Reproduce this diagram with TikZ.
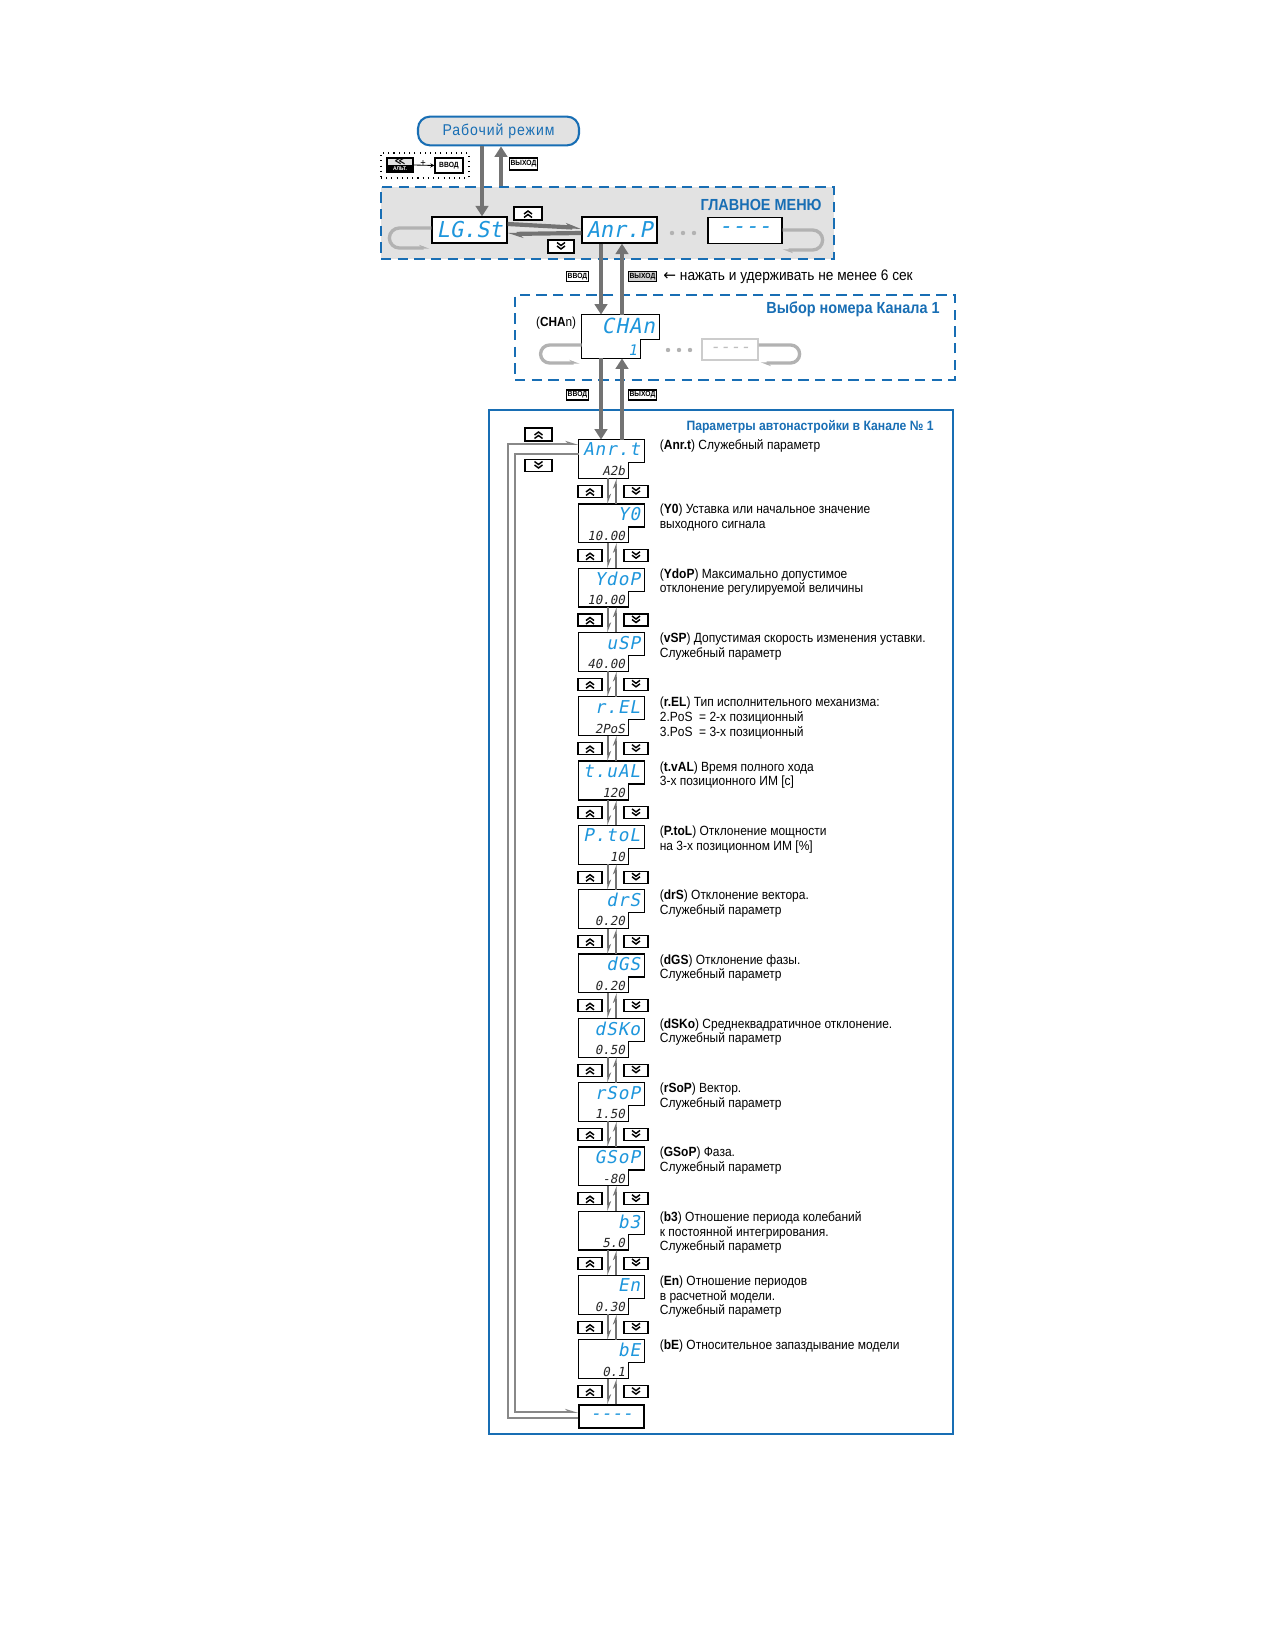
\documentclass[tikz,border=0pt]{standalone}
\usepackage{fontspec}
\setmainfont{Liberation Sans}[FakeStretch=0.9]
\newfontfamily\segfont{DejaVu Sans Mono}[FakeSlant=0.2]
\newfontfamily\symfont{DejaVu Sans}
\usetikzlibrary{arrows.meta}
\definecolor{owenblue}{RGB}{24,110,180}
\definecolor{segblue}{RGB}{30,150,220}
\definecolor{menugray}{RGB}{226,226,226}
\definecolor{arrowgray}{RGB}{115,115,115}
\definecolor{loopgray}{RGB}{178,178,178}
\def\px{*0.48pt}

\begin{document}
\begin{tikzpicture}[x=0.48pt,y=-0.48pt,
  seg/.style={font=\segfont\fontsize{8.5}{8.5}\selectfont\addfontfeature{LetterSpace=5}, text=segblue, inner sep=0},
  segsmall/.style={font=\segfont\fontsize{6}{6}\selectfont, text=black!85, inner sep=0},
  dispbox/.style={minimum width=65\px, minimum height=38\px, inner sep=0},
  dispedge/.style={draw=black, line width=0.6pt, fill=white},
  bigdisp/.style={draw, line width=0.6pt, fill=white, minimum width=75\px, minimum height=26\px,
    inner sep=0, font=\segfont\fontsize{10.5}{10.5}\selectfont, text=segblue},
  key/.style={draw, line width=0.5pt, fill=white, inner sep=0.6pt, font=\fontsize{3.6}{4}\selectfont\bfseries},
  upkey/.style={draw, line width=0.5pt, fill=white, minimum width=24\px, minimum height=12\px, inner sep=0,
    path picture={\draw[line width=0.7pt] ([shift={(-4,0.5)}]path picture bounding box.center) -- ++(4,-3) -- ++(4,3)
      ([shift={(-4,4)}]path picture bounding box.center) -- ++(4,-3) -- ++(4,3);}},
  downkey/.style={draw, line width=0.5pt, fill=white, minimum width=24\px, minimum height=12\px, inner sep=0,
    path picture={\draw[line width=0.7pt] ([shift={(-4,-4)}]path picture bounding box.center) -- ++(4,3) -- ++(4,-3)
      ([shift={(-4,-0.5)}]path picture bounding box.center) -- ++(4,3) -- ++(4,-3);}},
  pill/.style={draw=owenblue, line width=1pt, fill=menugray, rounded corners=5.7pt, minimum width=161\px,
    minimum height=25\px, text=owenblue, font=\fontsize{7.5}{8}\selectfont\addfontfeature{LetterSpace=6}},
  menubox/.style={draw=owenblue, line width=1pt, dash pattern=on 5pt off 3pt, fill=menugray},
  chanframe/.style={draw=owenblue, line width=1pt, dash pattern=on 5pt off 3pt},
  parframe/.style={draw=owenblue, line width=0.8pt},
  title/.style={text=owenblue, font=\fontsize{7.7}{8}\selectfont\bfseries, inner sep=0},
  subtitle/.style={text=owenblue, font=\fontsize{6.5}{7}\selectfont\bfseries, inner sep=0},
  desc/.style={font=\fontsize{6.4}{7}\selectfont, align=left, inner sep=0, anchor=north west},
  bigarrow/.style={draw=arrowgray, line width=2pt, -{Triangle[length=5pt,width=6pt]}},
  colarrow/.style={draw=arrowgray, line width=1.4pt, -{Stealth[harpoon,length=4pt,width=3pt]}},
  sidearrow/.style={draw=arrowgray, line width=2pt, -{Stealth[harpoon,length=6pt,width=4pt]}},
  looparrow/.style={draw=arrowgray!85, line width=1.4pt, -{Stealth[harpoon,length=5pt,width=3pt]}},
  menuloop/.style={draw=loopgray, line width=1.6pt, -{Stealth[harpoon,length=4pt,width=3pt]}}]
\useasboundingbox (0,0) rectangle (1275,1650);

% working mode and main menu
\node[pill] (work) at (498.5,131) {Рабочий режим};
\node[draw, dotted, line width=0.5pt, minimum width=88\px, minimum height=25\px] (combo) at (425,165.5) {};
\node[draw, line width=0.5pt, fill=menugray, minimum width=26\px, minimum height=14\px, inner sep=0] (alt) at (400,165) {};
\fill (alt.west) rectangle (alt.south east);
\node[inner sep=0, font=\symfont\fontsize{5}{5}\selectfont\bfseries] at ([yshift=3.5\px]alt.center) {≪};
\node[inner sep=0, text=white, font=\fontsize{2.6}{3}\selectfont\bfseries] at ([yshift=3.5\px]alt.south) {АЛЬТ.};
\node[key, minimum width=28\px, minimum height=15\px] (enter0) at (449,165.5) {ВВОД};
\draw[line width=0.4pt, -{Stealth[length=2pt,width=2pt]}] (alt.east) -- (enter0.west);
\node[inner sep=0, font=\fontsize{5}{5}\selectfont] at (423,163.5) {+};
\node[key, minimum width=27\px, minimum height=12\px] (exit0) at (523.5,164) {ВЫХОД};

\node[menubox, minimum width=453\px, minimum height=72\px] (menu) at (607.5,223) {};
\node[title, anchor=east] at (822,205) {ГЛАВНОЕ МЕНЮ};
\node[bigdisp] (lgst) at (469.5,230) {LG.St};
\node[bigdisp] (anrp) at (619.5,230) {Anr.P};
\node[bigdisp, minimum width=74\px] (mdash) at (745,230.5) {----};
\foreach \x in {672,683,694} \fill[loopgray] (\x,233) circle (2.2);
\node[upkey, minimum width=28\px, minimum height=13\px] (mup) at (528,213.5) {};
\node[downkey, minimum width=26\px, minimum height=13\px] (mdown) at (561,246.5) {};

\draw[bigarrow] (work.south -| 482,0) -- (lgst.north -| 482,0);
\draw[bigarrow] (menu.north -| 501,0) -- (work.south -| 501,0);
\draw[sidearrow] ([yshift=6\px]lgst.east) -- ([yshift=2\px]anrp.west);
\draw[sidearrow] ([yshift=-3\px]anrp.west) -- ([yshift=-4\px]lgst.east);
\draw[menuloop] ([yshift=2\px]lgst.west) -- ++(-32,0) arc (270:90:10) -- ++(30,0);
\draw[menuloop] ([yshift=0.5\px]mdash.east) -- ++(30,0) arc (-90:90:10) -- ++(-30,0);

% channel number
\node[key, minimum width=19\px, minimum height=10\px] (enter1) at (577.5,276.5) {ВВОД};
\node[key, fill=gray!35, minimum width=19\px, minimum height=10\px] (exit1) at (642.5,276.5) {ВЫХОД};
\node[anchor=west, inner sep=0, font=\fontsize{7.3}{8}\selectfont] at (663,276.5) {{\symfont ←} нажать и удерживать не менее 6 сек};

\node[chanframe, minimum width=440\px, minimum height=85\px] (chanbox) at (735,337.5) {};
\node[title, anchor=east] at (940,309) {Выбор номера Канала 1};
\node[minimum width=77\px, minimum height=43\px, inner sep=0] (chan) at (620.5,336.5) {};
\draw[dispedge] (chan.north west) -- (chan.north east) -- ++(0,25) -- ++(-19,0) |- (chan.south west) -- cycle;
\node[seg, font=\segfont\fontsize{10}{10}\selectfont\addfontfeature{LetterSpace=5}, anchor=north east] at ([shift={(-4,3)}]chan.north east) {CHAn};
\node[seg, font=\segfont\fontsize{7}{7}\selectfont, anchor=south east] at ([shift={(-22,-2)}]chan.south east) {1};
\node[anchor=east, inner sep=0, font=\fontsize{6.3}{7}\selectfont] at ([shift={(-5,-13.5)}]chan.west) {(\textbf{CHA}n)};
\foreach \x in {668,679,690} \fill[loopgray] (\x,350) circle (2.2);
\node[draw=gray!40, line width=0.6pt, minimum width=56\px, minimum height=21\px, text=gray!50,
  font=\segfont\fontsize{8}{8}\selectfont] (chdash) at (730,349.5) {----};
\draw[menuloop] ([yshift=-8.5\px]chan.west) -- ++(-32,0) arc (270:90:9) -- ++(30,0);
\draw[menuloop] ([yshift=4.5\px]chdash.east) -- ++(32,0) arc (-90:90:9) -- ++(-30,0);

\draw[bigarrow] (anrp.south -| 601,0) -- (chan.north -| 601,0);
\draw[bigarrow] (chan.north -| 622,0) -- (anrp.south -| 622,0);

% autotuning parameters
\node[key, minimum width=19\px, minimum height=10\px] (enter2) at (577.5,395) {ВВОД};
\node[key, minimum width=19\px, minimum height=10\px] (exit2) at (642.5,395) {ВЫХОД};
\node[parframe, minimum width=464\px, minimum height=1024\px] (parbox) at (721,922) {};
\node[subtitle, anchor=east] at (934,427) {Параметры автонастройки в Канале № 1};
\node[upkey, minimum width=27\px, minimum height=13\px] (pup) at (538.5,434.5) {};
\node[downkey, minimum width=27\px, minimum height=12\px] (pdown) at (538.5,465.5) {};

\def\param#1#2#3#4{%
  \node[dispbox] (p#1) at (611.5,{459+(#1-1)*64.3}) {};
  \draw[dispedge] (p#1.north west) -- (p#1.north east) -- ++(0,23) -- ++(-16,0) |- (p#1.south west) -- cycle;
  \node[seg, anchor=north east] at ([shift={(-4,3)}]p#1.north east) {#2};
  \node[segsmall, anchor=south east] at ([shift={(-19,-2)}]p#1.south east) {#3};
  \node[desc] at ([shift={(15,0)}]p#1.north east) {#4};
}
\param{1}{Anr.t}{A2b}{(\textbf{Anr.t}) Служебный параметр}
\param{2}{Y0}{10.00}{(\textbf{Y0}) Уставка или начальное значение\\выходного сигнала}
\param{3}{YdoP}{10.00}{(\textbf{YdoP}) Максимально допустимое\\отклонение регулируемой величины}
\param{4}{uSP}{40.00}{(\textbf{vSP}) Допустимая скорость изменения уставки.\\Служебный параметр}
\param{5}{r.EL}{2PoS}{(\textbf{r.EL}) Тип исполнительного механизма:\\2.PoS \ = 2-х позиционный\\3.PoS \ = 3-х позиционный}
\param{6}{t.uAL}{120}{(\textbf{t.vAL}) Время полного хода\\3-х позиционного ИМ [с]}
\param{7}{P.toL}{10}{(\textbf{P.toL}) Отклонение мощности\\на 3-х позиционном ИМ [\%]}
\param{8}{drS}{0.20}{(\textbf{drS}) Отклонение вектора.\\Служебный параметр}
\param{9}{dGS}{0.20}{(\textbf{dGS}) Отклонение фазы.\\Служебный параметр}
\param{10}{dSKo}{0.50}{(\textbf{dSKo}) Среднеквадратичное отклонение.\\Служебный параметр}
\param{11}{rSoP}{1.50}{(\textbf{rSoP}) Вектор.\\Служебный параметр}
\param{12}{GSoP}{-80}{(\textbf{GSoP}) Фаза.\\Служебный параметр}
\param{13}{b3}{5.0}{(\textbf{b3}) Отношение периода колебаний\\к постоянной интегрирования.\\Служебный параметр}
\param{14}{En}{0.30}{(\textbf{En}) Отношение периодов\\в расчетной модели.\\Служебный параметр}
\param{15}{bE}{0.1}{(\textbf{bE}) Относительное запаздывание модели}
\node[dispbox, draw, line width=0.6pt, fill=white, minimum height=23\px, font=\segfont\fontsize{8.5}{8.5}\selectfont,
  text=segblue] (p16) at (611.5,1416.5) {----};

\foreach \k [evaluate=\k as \n using int(\k+1)] in {1,...,15} {
  \node[upkey] at ([shift={(-21.5,13)}]p\k.south) {};
  \node[downkey] at ([shift={(24.5,13)}]p\k.south) {};
  \draw[colarrow] ([xshift=-3.5\px]p\k.south) -- ([xshift=-3.5\px]p\n.north);
  \draw[colarrow] ([xshift=4.5\px]p\n.north) -- ([xshift=4.5\px]p\k.south);
}

\draw[bigarrow] (chan.south -| 601,0) -- (p1.north -| 601,0);
\draw[bigarrow] (p1.north -| 622,0) -- (chan.south -| 622,0);
\draw[looparrow] ([yshift=-1.5\px]p16.west) -| (508,444) -- ([yshift=15\px]p1.west);
\draw[looparrow] ([yshift=5\px]p1.west) -| (515,1412) -- ([yshift=4.5\px]p16.west);
\end{tikzpicture}
\end{document}
